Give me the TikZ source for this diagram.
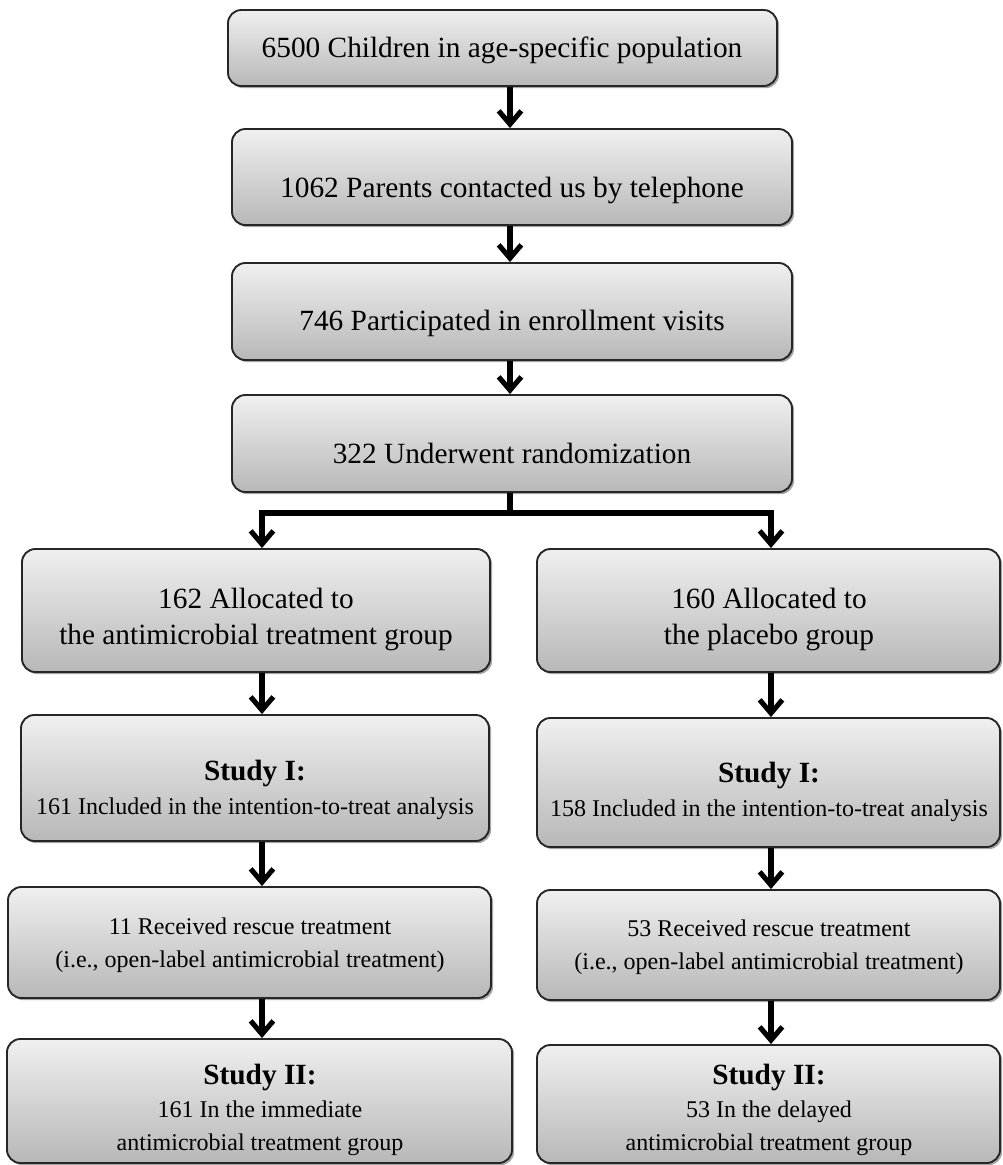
\documentclass[tikz,border=0pt]{standalone}
\usepackage{fontspec}
\setmainfont{Liberation Serif}
\usetikzlibrary{arrows.meta,shadows,calc}
\tikzset{
  fbox/.style={draw=black!85, line width=1.4pt, rounded corners=10pt,
    top color=black!6, bottom color=black!28,
    drop shadow={shadow xshift=1.6pt, shadow yshift=-1.6pt, fill=black!50, opacity=0.7}},
  bigtxt/.style={align=center, inner sep=0pt, font=\fontsize{22}{27}\selectfont},
  smtxt/.style={align=center, inner sep=0pt, font=\fontsize{18}{25}\selectfont},
  conn/.style={line width=3.8pt, line join=miter},
  arr/.style={conn, -{Straight Barb[length=10pt,width=17pt]}}
}
\newcommand{\flowbox}[5]{%
  \pgfmathsetmacro{\fbcx}{(#2+#4)/2}%
  \pgfmathsetmacro{\fbcy}{(#3+#5)/2}%
  \pgfmathsetmacro{\fbw}{(#4-#2)*0.75}%
  \pgfmathsetmacro{\fbh}{(#5-#3)*0.75}%
  \node[fbox, inner sep=0pt, minimum width=\fbw pt, minimum height=\fbh pt] (#1) at (\fbcx,\fbcy) {};}
\newcommand{\studyhead}[1]{{\fontsize{22}{27}\selectfont\bfseries #1}}
\begin{document}
\begin{tikzpicture}[x=0.75pt,y=-0.75pt]
\useasboundingbox (0,0) rectangle (1003,1165);
% top column
\flowbox{B1}{228}{10}{777}{86}
\flowbox{B2}{232}{129}{792}{225}
\flowbox{B3}{232}{263}{792}{360}
\flowbox{B4}{232}{395}{792}{492}
% left column
\flowbox{L1}{22}{549}{490}{672}
\flowbox{L2}{21}{715}{489}{841}
\flowbox{L3}{8}{887}{491}{998}
\flowbox{L4}{7}{1039}{512}{1163}
% right column
\flowbox{R1}{537}{549}{1000}{672}
\flowbox{R2}{537}{718}{1000}{847}
\flowbox{R3}{537}{890}{1000}{1000}
\flowbox{R4}{537}{1045}{1000}{1163}

% texts
\node[bigtxt] (B1t) at (502,50) {6500 Children in age-specific population};
\node[bigtxt] (B2t) at (512,190) {1062 Parents contacted us by telephone};
\node[bigtxt] (B3t) at (512,323) {746 Participated in enrollment visits};
\node[bigtxt] (B4t) at (512,453) {322 Underwent randomization};
\node[bigtxt] (L1t) at (256,619) {162 Allocated to\\the antimicrobial treatment group};
\node[bigtxt] (R1t) at (769,619) {160 Allocated to\\the placebo group};
\node[smtxt] (L2t) at (255,790) {\studyhead{Study I:}\\161 Included in the intention-to-treat analysis};
\node[smtxt] (R2t) at (769,792) {\studyhead{Study I:}\\158 Included in the intention-to-treat analysis};
\node[smtxt] (L3t) at (250,945) {11 Received rescue treatment\\(i.e., open-label antimicrobial treatment)};
\node[smtxt] (R3t) at (769,947) {53 Received rescue treatment\\(i.e., open-label antimicrobial treatment)};
\node[smtxt] (L4t) at (260,1110) {\studyhead{Study II:}\\161 In the immediate\\antimicrobial treatment group};
\node[smtxt] (R4t) at (769,1110) {\studyhead{Study II:}\\53 In the delayed\\antimicrobial treatment group};

% connector columns
\coordinate (mx) at (510,0);
\coordinate (lx) at (262,0);
\coordinate (rx) at (771,0);
\coordinate (split) at (510,513);

\draw[arr] (mx |- B1.south) -- (mx |- B2.north);
\draw[arr] (mx |- B2.south) -- (mx |- B3.north);
\draw[arr] (mx |- B3.south) -- (mx |- B4.north);
\draw[conn] (mx |- B4.south) -- (split);
\draw[arr] (split) -| (lx |- L1.north);
\draw[arr] (split) -| (rx |- R1.north);

\draw[arr] (lx |- L1.south) -- (lx |- L2.north);
\draw[arr] (lx |- L2.south) -- (lx |- L3.north);
\draw[arr] (lx |- L3.south) -- (lx |- L4.north);

\draw[arr] (rx |- R1.south) -- (rx |- R2.north);
\draw[arr] (rx |- R2.south) -- (rx |- R3.north);
\draw[arr] (rx |- R3.south) -- (rx |- R4.north);
\end{tikzpicture}
\end{document}
